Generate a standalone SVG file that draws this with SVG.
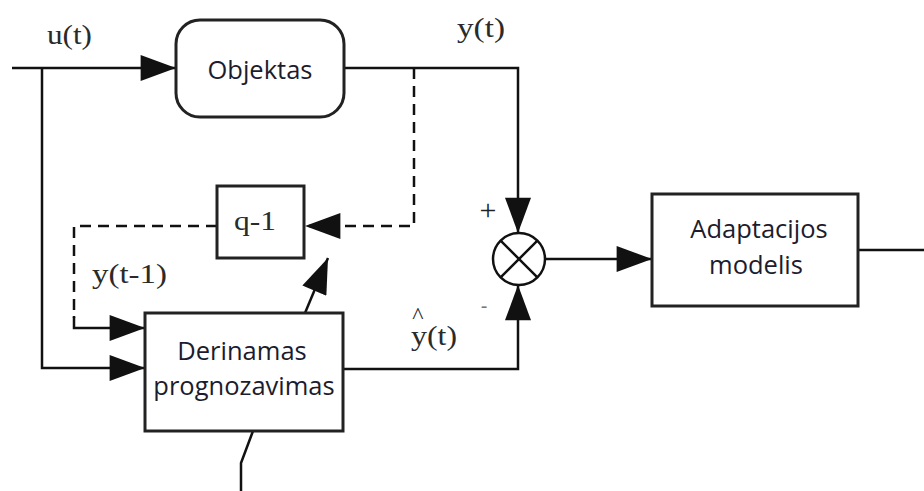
<svg xmlns="http://www.w3.org/2000/svg" width="924" height="491" viewBox="0 0 924 491">
<defs>
<marker id="arr" markerUnits="userSpaceOnUse" markerWidth="36" markerHeight="26" viewBox="0 0 34 25" refX="34" refY="12.5" orient="auto">
<path d="M0,0 L34,12.5 L0,25 Z" fill="#111"/>
</marker>
<style>
.ln{fill:none;stroke:#111;stroke-width:2.5}
.dash{stroke-dasharray:11 7}
.box{fill:#fff;stroke:#222;stroke-width:3}
.sans{font-family:"Open Sans","Noto Sans","DejaVu Sans",sans-serif;font-size:25.5px;fill:#1c1c2e;text-anchor:middle}
.serif{font-family:"Liberation Serif","Times New Roman",serif;font-size:28px;fill:#2a2a2a}
</style>
</defs>
<rect width="924" height="491" fill="#fff"/>
<g id="connectors">
<path class="ln" d="M12,68 H176" marker-end="url(#arr)"/>
<path class="ln" d="M42,68 V368 H145" marker-end="url(#arr)"/>
<path class="ln" d="M344,68 H518 V233" marker-end="url(#arr)"/>
<path class="ln dash" d="M414,68 V226 H305" marker-end="url(#arr)"/>
<path class="ln dash" d="M217,226 H74 V318"/>
<path class="ln" d="M74,316 V328 H145" marker-end="url(#arr)"/>
<path class="ln" d="M305,313 L328,258" marker-end="url(#arr)"/>
<path class="ln" d="M343,369 H518 V285" marker-end="url(#arr)"/>
<path class="ln" d="M545,259 H652" marker-end="url(#arr)"/>
<path class="ln" d="M858,250 H924"/>
<path class="ln" d="M253,431 L241,463 V491"/>
</g>
<g id="objektas">
<rect class="box" x="176" y="20" width="168" height="97" rx="24" ry="24"/>
<text class="sans" x="260" y="79">Objektas</text>
</g>
<g id="q1">
<rect class="box" x="217" y="186" width="87" height="72"/>
<text class="serif" x="255" y="230" text-anchor="middle" textLength="42" lengthAdjust="spacingAndGlyphs">q-1</text>
</g>
<g id="derinamas">
<rect class="box" x="145" y="313" width="198" height="118"/>
<text class="sans" x="242" y="360">Derinamas</text>
<text class="sans" x="244" y="395">prognozavimas</text>
</g>
<g id="sumator">
<circle cx="519" cy="259" r="26" fill="#fff" stroke="#111" stroke-width="2.5"/>
<path class="ln" d="M500.6,240.6 L537.4,277.4 M537.4,240.6 L500.6,277.4"/>
</g>
<g id="adaptacijos">
<rect class="box" x="652" y="194" width="206" height="112"/>
<text class="sans" x="759" y="238">Adaptacijos</text>
<text class="sans" x="756" y="274">modelis</text>
</g>
<g id="labels">
<text class="serif" x="47" y="44" textLength="45" lengthAdjust="spacingAndGlyphs">u(t)</text>
<text class="serif" x="457" y="37" textLength="48" lengthAdjust="spacingAndGlyphs">y(t)</text>
<text class="serif" x="92" y="283" textLength="75" lengthAdjust="spacingAndGlyphs">y(t-1)</text>
<text x="418" y="323" text-anchor="middle" font-family="'Liberation Serif','Times New Roman',serif" font-size="24" fill="#2a2a2a">^</text>
<text class="serif" x="411" y="345" textLength="46" lengthAdjust="spacingAndGlyphs">y(t)</text>
<text x="488" y="220" text-anchor="middle" font-family="'Liberation Serif','Times New Roman',serif" font-size="30" fill="#222">+</text>
<text x="484" y="313" text-anchor="middle" font-family="'Liberation Sans',Arial,sans-serif" font-size="20" fill="#777">-</text>
</g>
</svg>
